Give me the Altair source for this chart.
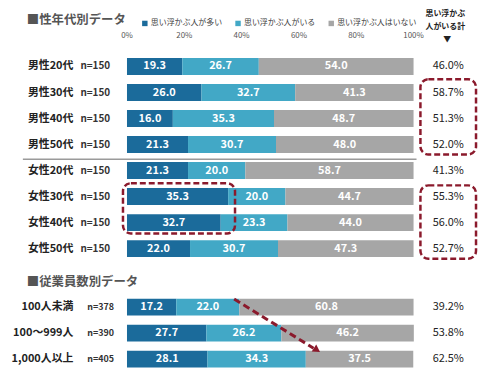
import altair as alt
import pandas as pd

FONT = "Noto Sans CJK JP"

segments = ["思い浮かぶ人が多い", "思い浮かぶ人がいる", "思い浮かぶ人はいない"]
colors = ["#1b6b9b", "#42a8c6", "#a6a6a6"]

gender_labels = ["男性20代", "男性30代", "男性40代", "男性50代",
                 "女性20代", "女性30代", "女性40代", "女性50代"]
gender_n = [150, 150, 150, 150, 150, 150, 150, 150]
gender_many = [19.3, 26.0, 16.0, 21.3, 21.3, 35.3, 32.7, 22.0]
gender_some = [26.7, 32.7, 35.3, 30.7, 20.0, 20.0, 23.3, 30.7]
gender_none = [54.0, 41.3, 48.7, 48.0, 58.7, 44.7, 44.0, 47.3]
gender_total = [46.0, 58.7, 51.3, 52.0, 41.3, 55.3, 56.0, 52.7]

emp_labels = ["100人未満", "100～999人", "1,000人以上"]
emp_n = [378, 390, 405]
emp_many = [17.2, 27.7, 28.1]
emp_some = [22.0, 26.2, 34.3]
emp_none = [60.8, 46.2, 37.5]
emp_total = [39.2, 53.8, 62.5]

tick_values = [0, 20, 40, 60, 80, 100]
tick_labels = ["0%", "20%", "40%", "60%", "80%", "100%"]

# ---- build tables ----
seg_rows, row_rows = [], []
sections = [
    ("gender", gender_labels, gender_n, gender_many, gender_some, gender_none, gender_total, 0.0),
    ("emp", emp_labels, emp_n, emp_many, emp_some, emp_none, emp_total, 9.25),
]
for sec, labels, ns, a, b, c, tot, off in sections:
    for i, lab in enumerate(labels):
        pos = off + i
        start = 0.0
        for seg, v in zip(segments, (a[i], b[i], c[i])):
            seg_rows.append(dict(label=lab, segment=seg, value=v, start=start,
                                 end=start + v, mid=start + v / 2, pos=pos))
            start += v
        row_rows.append(dict(label=lab, n=f"n={ns[i]}", total=f"{tot[i]:.1f}%",
                             pos=pos, section=sec))
seg_df = pd.DataFrame(seg_rows)
row_df = pd.DataFrame(row_rows)
tick_df = pd.DataFrame(dict(v=tick_values, t=tick_labels))
one = pd.DataFrame({"k": [0]})

xs = alt.Scale(domain=[0, 100], nice=False, zero=False)
ys = alt.Scale(domain=[-2, 11.65], reverse=True, nice=False, zero=False)

bars = alt.Chart(seg_df).mark_bar(orient="horizontal", size=17).encode(
    x=alt.X("start:Q", scale=xs, axis=None),
    x2="end:Q",
    y=alt.Y("pos:Q", scale=ys, axis=None),
    color=alt.Color("segment:N",
                    scale=alt.Scale(domain=segments, range=colors),
                    sort=segments,
                    legend=alt.Legend(orient="none", legendX=14, legendY=10,
                                      direction="horizontal", title=None,
                                      symbolType="square", symbolSize=30,
                                      symbolStrokeWidth=0,
                                      labelFontSize=8, labelFont=FONT,
                                      labelColor="#404040", columnPadding=12,
                                      labelOffset=2, padding=0)),
)

bar_text = alt.Chart(seg_df).mark_text(
    color="white", fontWeight="bold", fontSize=11, font=FONT, baseline="middle"
).encode(
    x=alt.X("mid:Q", scale=xs, axis=None),
    y=alt.Y("pos:Q", scale=ys, axis=None),
    text=alt.Text("value:Q", format=".1f"),
)

row_label = alt.Chart(row_df).mark_text(
    align="right", baseline="middle", fontWeight="bold", fontSize=11,
    font=FONT, color="#222222"
).encode(
    x=alt.value(-54),
    y=alt.Y("pos:Q", scale=ys, axis=None),
    text="label:N",
)

n_gender = alt.Chart(row_df).transform_filter(alt.datum.section == "gender").mark_text(
    align="left", baseline="middle", fontWeight="bold", fontSize=10,
    font=FONT, color="#333333"
).encode(
    x=alt.value(-47),
    y=alt.Y("pos:Q", scale=ys, axis=None),
    text="n:N",
)

n_emp = alt.Chart(row_df).transform_filter(alt.datum.section == "emp").mark_text(
    align="left", baseline="middle", fontWeight="bold", fontSize=9,
    font=FONT, color="#333333"
).encode(
    x=alt.value(-40),
    y=alt.Y("pos:Q", scale=ys, axis=None),
    text="n:N",
)

totals = alt.Chart(row_df).mark_text(
    align="center", baseline="middle", fontSize=11, font=FONT, color="#222222"
).encode(
    x=alt.value(324),
    y=alt.Y("pos:Q", scale=ys, axis=None),
    text="total:N",
)

ticks = alt.Chart(tick_df).mark_text(
    align="center", baseline="middle", fontSize=8, font=FONT, color="#555555"
).encode(
    x=alt.X("v:Q", scale=xs, axis=None),
    y=alt.value(27),
    text="t:N",
)

def label(txt, x, y, **kw):
    return alt.Chart(one).mark_text(baseline="middle", font=FONT, **kw).encode(
        x=alt.value(x), y=alt.value(y), text=alt.value(txt))

title1 = label("■性年代別データ", -101, 11, align="left", fontSize=12.5,
               fontWeight="bold", color="#555555")
title2 = label("■従業員数別データ", -101, 275, align="left", fontSize=12.5,
               fontWeight="bold", color="#555555")
head1 = label("思い浮かぶ", 321, 5, align="center", fontSize=8,
              fontWeight="bold", color="#222222")
head2 = label("人がいる計", 321, 18, align="center", fontSize=8,
              fontWeight="bold", color="#222222")
head3 = label("▼", 323, 31, align="center", fontSize=8, color="#222222")

sep = alt.Chart(one).mark_rule(color="#9a9a9a", strokeWidth=1.5).encode(
    x=alt.value(-105), x2=alt.value(292),
    y=alt.YDatum(3.57, scale=ys, axis=None),
)

RED = "#8b1a2c"
def box(x0, x1, y0, y1):
    return alt.Chart(one).mark_rect(
        fillOpacity=0, stroke=RED, strokeWidth=2.5, strokeDash=[6, 3],
        cornerRadius=8
    ).encode(
        x=alt.XDatum(x0, scale=xs, axis=None), x2=alt.X2Datum(x1),
        y=alt.YDatum(y0, scale=ys, axis=None), y2=alt.Y2Datum(y1),
    )

box_left = box(-1.4, 37.7, 4.49, 6.42)
box_r1 = box(102.4, 121.8, 0.49, 3.38)
box_r2 = box(102.4, 121.8, 4.57, 7.39)

arrow_line = alt.Chart(one).mark_rule(
    color=RED, strokeWidth=3, strokeDash=[7, 4]
).encode(
    x=alt.XDatum(37.4, scale=xs, axis=None), x2=alt.X2Datum(65.1),
    y=alt.YDatum(8.94, scale=ys, axis=None), y2=alt.Y2Datum(10.83),
)
arrow_head = alt.Chart(one).mark_point(
    shape="triangle-right", angle=33, filled=True, size=70, color=RED, opacity=1
).encode(
    x=alt.XDatum(66.3, scale=xs, axis=None),
    y=alt.YDatum(10.9, scale=ys, axis=None),
)

chart = alt.layer(
    bars, bar_text, row_label, n_gender, n_emp, totals, ticks,
    title1, title2, head1, head2, head3, sep,
    box_left, box_r1, box_r2, arrow_line, arrow_head,
).properties(
    width=289, height=368, autosize="none",
    padding={"left": 120, "top": 0, "right": 65, "bottom": 0},
).configure_view(stroke=None)

chart.save("out.html", embed_options={"renderer": "svg", "actions": False})
